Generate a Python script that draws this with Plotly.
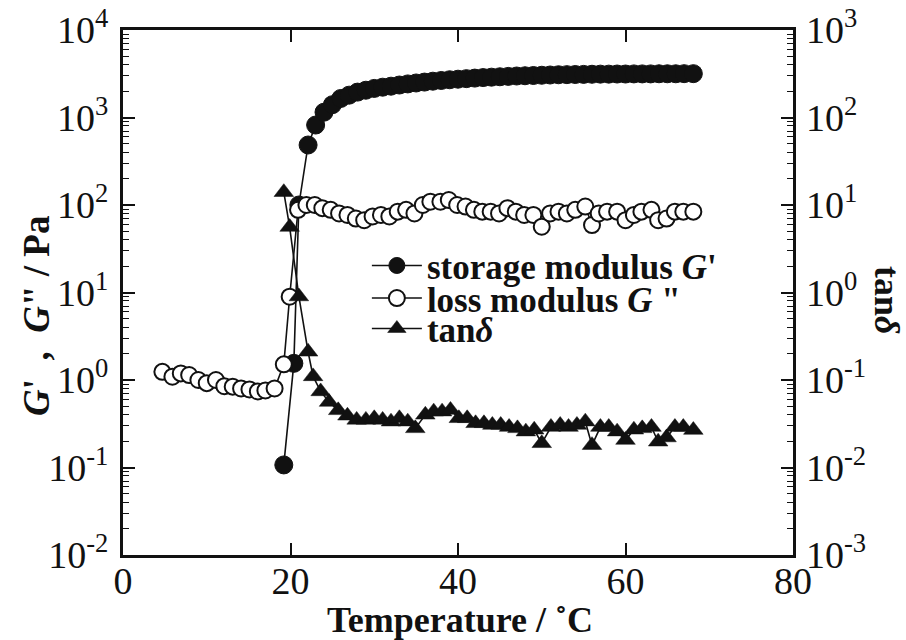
import plotly.graph_objects as go

# ---------------- data ----------------
t_gp = [19.2, 20.4, 21.0, 22.1, 23.0, 24.0, 25.0, 26.0, 27.0, 28.0, 29.0, 30.0,
        31.0, 32.0, 33.0, 34.0, 35.0, 36.0, 37.0, 38.0, 39.0, 40.0, 41.0, 42.0,
        43.0, 44.0, 45.0, 46.0, 47.0, 48.0, 49.0, 50.0, 51.0, 52.0, 53.0, 54.0,
        55.0, 56.0, 57.0, 58.0, 59.0, 60.0, 61.0, 62.0, 63.0, 64.0, 65.0, 66.0,
        67.0, 68.1]
g_storage = [0.107, 1.55, 100, 485, 820, 1150, 1400, 1650, 1800, 1950, 2050, 2150,
             2220, 2280, 2350, 2420, 2480, 2540, 2600, 2650, 2700, 2740, 2780, 2820,
             2860, 2890, 2920, 2950, 2980, 3000, 3020, 3040, 3060, 3080, 3090, 3100,
             3110, 3120, 3130, 3130, 3140, 3140, 3150, 3150, 3150, 3160, 3160, 3160,
             3170, 3170]

t_gpp = [4.7, 5.9, 6.9, 7.9, 9.0, 10.0, 11.1, 12.1, 13.1, 14.1, 15.1, 16.1, 17.0,
         18.1, 19.2, 19.9, 20.9, 21.9, 22.9, 23.8, 24.8, 25.8, 26.8, 27.8, 28.8,
         29.8, 30.8, 31.8, 32.8, 33.8, 34.8, 35.8, 36.7, 37.9, 38.9, 39.9, 40.9,
         41.9, 42.9, 43.9, 44.9, 45.9, 46.9, 47.9, 49.0, 50.0, 51.0, 52.0, 53.0,
         54.0, 55.2, 56.0, 56.8, 57.8, 59.0, 60.0, 61.0, 61.9, 63.1, 63.9, 64.9,
         65.9, 66.9, 68.1]
g_loss = [1.24, 1.09, 1.19, 1.14, 1.0, 0.92, 1.0, 0.85, 0.84, 0.80, 0.78, 0.74, 0.76,
          0.80, 1.51, 8.95, 88, 100, 100, 92, 88, 80, 77, 70, 67,
          74, 77, 74, 84, 88, 80, 100, 109, 109, 114, 100, 96,
          88, 84, 84, 80, 92, 84, 77, 77, 56.5, 80, 84, 80,
          88, 96, 59, 80, 84, 84, 67, 77, 84, 88, 67, 70,
          84, 84, 84]

t_tan = [19.2, 19.9, 21.0, 22.1, 22.7, 23.6, 24.6, 25.7, 26.8, 27.9, 29.0, 30.0,
         31.0, 32.0, 33.0, 34.0, 34.9, 36.1, 37.1, 38.1, 39.1, 40.1, 41.1, 42.1,
         43.1, 44.1, 45.1, 46.1, 47.1, 48.1, 49.1, 50.0, 51.1, 52.2, 53.2, 54.2,
         55.2, 56.0, 57.0, 58.0, 59.0, 60.0, 61.0, 62.0, 63.1, 63.9, 64.9, 65.9,
         66.9, 68.1]
tan_delta = [14, 5.6, 0.9, 0.21, 0.11, 0.074, 0.056, 0.045, 0.039, 0.035, 0.035, 0.0365,
             0.035, 0.0334, 0.0365, 0.0334, 0.028, 0.040, 0.0435, 0.0435, 0.0454, 0.0365,
             0.0365, 0.032, 0.032, 0.0306, 0.0306, 0.029, 0.028, 0.0257, 0.027, 0.0189,
             0.029, 0.0306, 0.029, 0.0306, 0.0334, 0.018, 0.029, 0.029, 0.0257, 0.0206,
             0.027, 0.028, 0.029, 0.0197, 0.022, 0.029, 0.029, 0.0268]

x_ticks = [0, 20, 40, 60, 80]
y_left_exp = [-2, -1, 0, 1, 2, 3, 4]
y_right_exp = [-3, -2, -1, 0, 1, 2, 3]

FONT = "Times New Roman, Liberation Serif, Tinos, serif"
BLACK = "#111111"
NB = "\u00a0"

fig = go.Figure()

fig.add_trace(go.Scatter(
    x=t_gp, y=g_storage, mode="lines+markers", yaxis="y", legend="legend",
    name="<b>storage modulus <i>G</i>'</b>",
    line=dict(color=BLACK, width=1.6),
    marker=dict(symbol="circle", size=18, color=BLACK, line=dict(color=BLACK, width=1))))

fig.add_trace(go.Scatter(
    x=t_gpp, y=g_loss, mode="lines+markers", yaxis="y", legend="legend2",
    name="<b>loss modulus <i>G</i>" + NB + "\"</b>",
    line=dict(color=BLACK, width=1.6),
    marker=dict(symbol="circle", size=16, color="white", line=dict(color=BLACK, width=2))))

fig.add_trace(go.Scatter(
    x=t_tan, y=tan_delta, mode="lines+markers", yaxis="y2", legend="legend3",
    name="<b>tan<i>δ</i></b>",
    line=dict(color=BLACK, width=1.6),
    marker=dict(symbol="triangle-up", size=17, color=BLACK, line=dict(color=BLACK, width=0.5))))

tickfont = dict(family=FONT, size=38, color=BLACK)
legfont = dict(family=FONT, size=35, color=BLACK)


def leg(yc):
    return dict(x=0.364, y=yc, xanchor="left", yanchor="middle",
                bgcolor="rgba(0,0,0,0)", borderwidth=0, font=legfont,
                itemwidth=50, tracegroupgap=0)


fig.update_layout(
    width=906, height=640,
    margin=dict(l=123, r=113, t=30, b=85, autoexpand=False),
    paper_bgcolor="white", plot_bgcolor="white",
    showlegend=True,
    legend=leg(0.551), legend2=leg(0.489), legend3=leg(0.431),
    xaxis=dict(range=[0, 80], tickvals=x_ticks, ticktext=[str(v) for v in x_ticks],
               ticks="inside", ticklen=12, tickwidth=1.5, tickcolor=BLACK,
               showline=True, linewidth=3, linecolor=BLACK, mirror="ticks",
               showgrid=False, zeroline=False, tickfont=tickfont,
               automargin=False, ticklabelstandoff=-10),
    yaxis=dict(type="log", range=[-2, 4],
               tickvals=[10 ** e for e in y_left_exp],
               ticktext=["10<sup>%d</sup>" % e for e in y_left_exp],
               ticks="inside", ticklen=12, tickwidth=1.5, tickcolor=BLACK,
               minor=dict(ticks="inside", ticklen=6, tickwidth=1, tickcolor=BLACK,
                          dtick="D1", showgrid=False),
               showline=True, linewidth=3, linecolor=BLACK, mirror=True,
               showgrid=False, zeroline=False, tickfont=tickfont,
               automargin=False, ticklabelstandoff=4),
    yaxis2=dict(type="log", range=[-3, 3], overlaying="y", side="right",
                tickvals=[10 ** e for e in y_right_exp],
                ticktext=["10<sup>%d</sup>" % e for e in y_right_exp],
                ticks="inside", ticklen=12, tickwidth=1.5, tickcolor=BLACK,
                minor=dict(ticks="inside", ticklen=6, tickwidth=1, tickcolor=BLACK,
                           dtick="D1", showgrid=False),
                showline=False, showgrid=False, zeroline=False, tickfont=tickfont,
                automargin=False, ticklabelstandoff=12),
    annotations=[
        dict(text="<b>Temperature / ˚C</b>", x=0.503, y=-0.124, xref="paper", yref="paper",
             xanchor="center", yanchor="middle", showarrow=False,
             font=dict(family=FONT, size=36, color=BLACK)),
        dict(text="<b><i>G</i>'" + NB + NB + "," + NB + NB + "<i>G</i>\"" + NB + "/" + NB + "Pa</b>",
             x=-0.13, y=0.455, xref="paper", yref="paper",
             xanchor="center", yanchor="middle", showarrow=False, textangle=-90,
             font=dict(family=FONT, size=37, color=BLACK)),
        dict(text="<b>tan<i>δ</i></b>", x=1.14, y=0.486, xref="paper", yref="paper",
             xanchor="center", yanchor="middle", showarrow=False, textangle=90,
             font=dict(family=FONT, size=36, color=BLACK)),
    ],
)

fig.write_html("out.html")
